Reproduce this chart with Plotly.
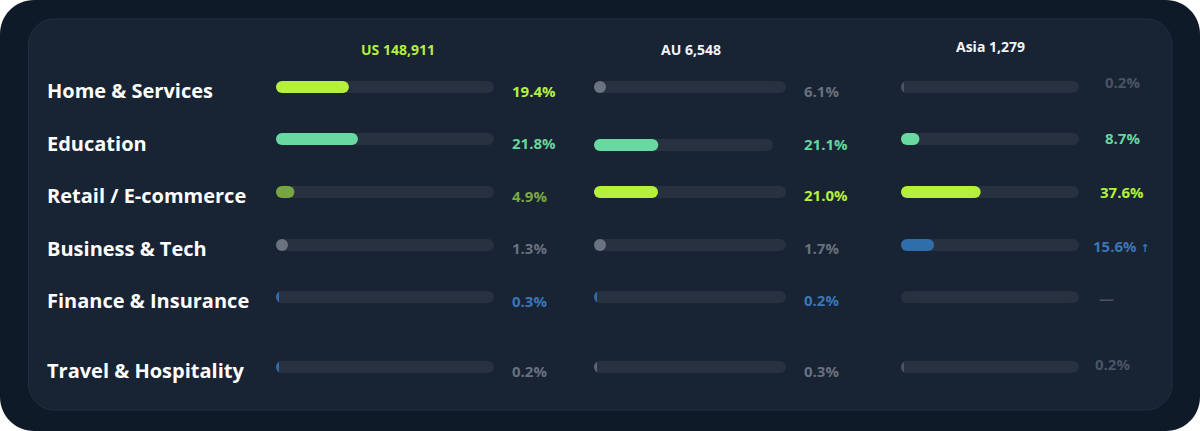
import plotly.graph_objects as go

W, H = 1200, 431

# ---------------- data ----------------
categories = ["Home & Services", "Education", "Retail / E-commerce",
              "Business & Tech", "Finance & Insurance", "Travel & Hospitality"]
region_names = ["US", "AU", "Asia"]
region_counts = [148911, 6548, 1279]
us_share = [19.4, 21.8, 4.9, 1.3, 0.3, 0.2]
au_share = [6.1, 21.1, 21.0, 1.7, 0.2, 0.3]
asia_share = [0.2, 8.7, 37.6, 15.6, None, 0.2]
asia_trend = ["", "", "", "↑", "", ""]

# ---------------- styles ----------------
us_bar_tone = ["lime", "mint", "olive", "dot", "blue", "blue"]
us_text_tone = ["lime", "mint", "olive", "gray", "blue", "gray"]
au_bar_tone = ["dot", "mint", "lime", "dot", "blue", "gray"]
au_text_tone = ["gray", "mint", "lime", "gray", "blue", "gray"]
asia_bar_tone = ["muted", "mint", "lime", "blue", None, "muted"]
asia_text_tone = ["muted", "mint", "lime", "blue", "muted", "muted"]

BAR_COLORS = {"lime": "#b4f03c", "mint": "#69d9a1", "olive": "#79a442",
              "dot": "#6b7280", "blue": "#2f6eaa", "gray": "#5d6674",
              "muted": "#4b5563"}
TEXT_COLORS = {"lime": "#b4f03c", "mint": "#66d69e", "olive": "#7aa83e",
               "gray": "#69717e", "blue": "#3977b6", "muted": "#4a5463"}

OUTER_BG = "#0f1a28"
CARD_BG = "#182333"
CARD_LINE = "#232f40"
TRACK = "#27313f"
FONT = "Open Sans"

# ---------------- layout constants ----------------
ROW_Y = [87, 139, 192, 245, 297, 367]
CAT_DY = [3, 4, 3, 3, 3, 3]
BAR_H = 12
MIN_FILL_PX = 3

COLS = [
    dict(share=us_share, bar=us_bar_tone, txt=us_text_tone, trend=None,
         xa="x", x0=276, x1=494, vmax=58, head_x=398, head_y=49, head_col="#b4f03c",
         lab_x=[510] * 6, lab_anchor=["left"] * 6, lab_dy=[4, 4, 4, 3, 4, 4],
         track_dy=[0] * 6, track_end=[None] * 6),
    dict(share=au_share, bar=au_bar_tone, txt=au_text_tone, trend=None,
         xa="x2", x0=594, x1=786, vmax=63, head_x=691, head_y=49, head_col="#f2f4f7",
         lab_x=[802] * 6, lab_anchor=["left"] * 6, lab_dy=[4, 5, 3, 3, 3, 4],
         track_dy=[0, 6, 0, 0, 0, 0], track_end=[None, 773, None, None, None, None]),
    dict(share=asia_share, bar=asia_bar_tone, txt=asia_text_tone, trend=asia_trend,
         xa="x3", x0=901, x1=1079, vmax=84, head_x=990, head_y=46, head_col="#f2f4f7",
         lab_x=[1122, 1122, 1122, 1121, 1097, 1093],
         lab_anchor=["center", "center", "center", "center", "left", "left"],
         lab_dy=[-5, -1, 0, 1, 1, -3],
         track_dy=[0] * 6, track_end=[None] * 6),
]


def rr_path(x0, y0, x1, y1, r):
    k = 0.5523 * r

    def P(x, y):
        return f"{x / W:.6f},{1 - y / H:.6f}"
    return (f"M {P(x0 + r, y0)} L {P(x1 - r, y0)} "
            f"C {P(x1 - r + k, y0)} {P(x1, y0 + r - k)} {P(x1, y0 + r)} "
            f"L {P(x1, y1 - r)} "
            f"C {P(x1, y1 - r + k)} {P(x1 - r + k, y1)} {P(x1 - r, y1)} "
            f"L {P(x0 + r, y1)} "
            f"C {P(x0 + r - k, y1)} {P(x0, y1 - r + k)} {P(x0, y1 - r)} "
            f"L {P(x0, y0 + r)} "
            f"C {P(x0, y0 + r - k)} {P(x0 + r - k, y0)} {P(x0 + r, y0)} Z")


fig = go.Figure()


def add_line(xa, xs, y, color, mode):
    fig.add_trace(go.Scatter(
        x=xs, y=[y] * len(xs), xaxis=xa, yaxis="y", mode=mode,
        line=dict(color=color, width=BAR_H),
        marker=dict(color=color, size=BAR_H, line=dict(width=0)),
        cliponaxis=True, hoverinfo="skip", showlegend=False))


def add_fill(xa, s, e, track_end, y, color, r_d, min_d):
    """Fill clipped to the track: a pill, or a rounded sliver for tiny values."""
    e = max(e, s + min_d)
    if e - s >= 2 * r_d:
        add_line(xa, [s + r_d, e - r_d], y, color, "lines+markers")
    else:
        # round start cap, then re-cover everything right of the value with track colour
        add_line(xa, [s + r_d], y, color, "markers")
        add_line(xa, [e, track_end - r_d], y, TRACK, "lines")


annotations = []

for c in COLS:
    px_per_unit = (c["x1"] - c["x0"]) / c["vmax"]
    r_d = (BAR_H / 2) / px_per_unit
    min_d = MIN_FILL_PX / px_per_unit
    ends = []
    # tracks
    for i in range(len(categories)):
        end = c["vmax"] if c["track_end"][i] is None else (c["track_end"][i] - c["x0"]) / px_per_unit
        ends.append(end)
        add_line(c["xa"], [r_d, end - r_d], ROW_Y[i] + c["track_dy"][i], TRACK, "lines+markers")

    # fills
    for i, v in enumerate(c["share"]):
        tone = c["bar"][i]
        if v is None or tone is None:
            continue
        y = ROW_Y[i] + c["track_dy"][i]
        if tone == "dot":
            add_line(c["xa"], [r_d], y, BAR_COLORS[tone], "markers")
        else:
            add_fill(c["xa"], 0, v, ends[i], y, BAR_COLORS[tone], r_d, min_d)

    # value labels
    for i, v in enumerate(c["share"]):
        txt = "—" if v is None else f"{v:.1f}%"
        if c["trend"] and c["trend"][i]:
            txt += (f" <span style='font-size:11px;font-family:DejaVu Sans'>"
                    f"<b>{c['trend'][i]}</b></span>")
        annotations.append(dict(
            x=c["lab_x"][i] / W, xref="paper", y=ROW_Y[i] + c["lab_dy"][i], yref="y",
            text=txt, showarrow=False, xanchor=c["lab_anchor"][i], yanchor="middle",
            font=dict(family=FONT, size=15, color=TEXT_COLORS[c["txt"][i]], weight=700)))

# headers
for c, name, cnt in zip(COLS, region_names, region_counts):
    annotations.append(dict(
        x=c["head_x"] / W, xref="paper", y=c["head_y"], yref="y",
        text=f"{name} {cnt:,}", showarrow=False, xanchor="center", yanchor="middle",
        font=dict(family=FONT, size=14, color=c["head_col"], weight=700)))

# category labels
for i, cat in enumerate(categories):
    annotations.append(dict(
        x=45 / W, xref="paper", y=ROW_Y[i] + CAT_DY[i], yref="y",
        text=cat, showarrow=False, xanchor="left", yanchor="middle",
        font=dict(family=FONT, size=20, color="#ffffff", weight=700)))

shapes = [
    dict(type="path", xref="paper", yref="paper", path=rr_path(0, 0, W, H, 34),
         fillcolor=OUTER_BG, line=dict(width=0), layer="below"),
    dict(type="path", xref="paper", yref="paper", path=rr_path(28.5, 19, 1172, 410, 26),
         fillcolor=CARD_BG, line=dict(color=CARD_LINE, width=1), layer="below"),
]

axis_off = dict(visible=False, showgrid=False, zeroline=False, fixedrange=True)
layout = dict(
    width=W, height=H, margin=dict(l=0, r=0, t=0, b=0),
    paper_bgcolor="#ffffff", plot_bgcolor="rgba(0,0,0,0)",
    showlegend=False,
    yaxis=dict(range=[H, 0], domain=[0, 1], **axis_off),
    shapes=shapes, annotations=annotations,
)
for c in COLS:
    key = "xaxis" if c["xa"] == "x" else "xaxis" + c["xa"][1:]
    layout[key] = dict(domain=[c["x0"] / W, c["x1"] / W], range=[0, c["vmax"]],
                       anchor="y", **axis_off)

fig.update_layout(**layout)
fig.write_html("out.html", config={"displayModeBar": False})
